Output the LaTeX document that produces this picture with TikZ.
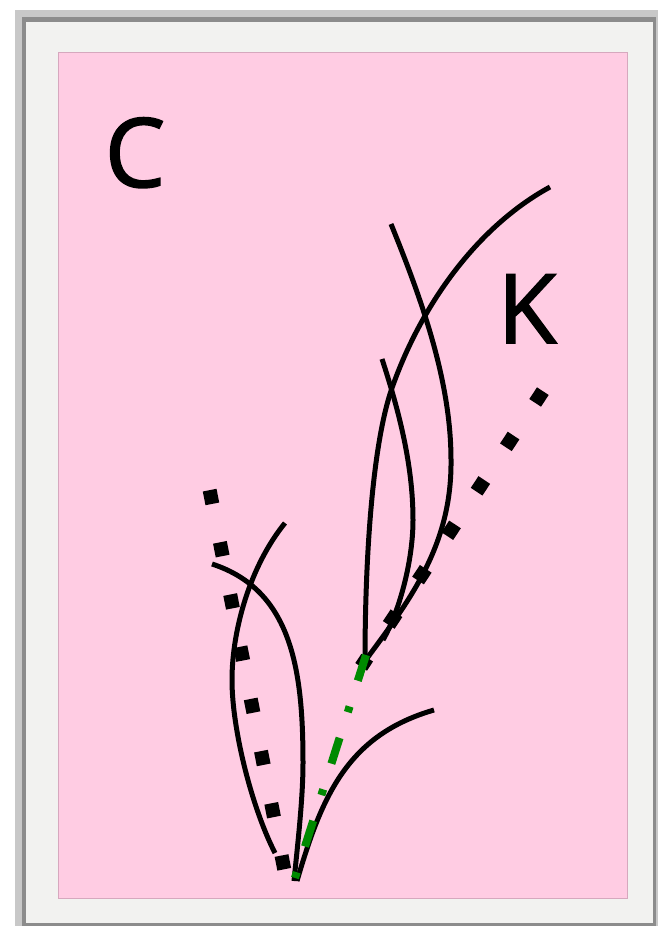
\documentclass[tikz,border=0pt]{standalone}
\usepackage{fontspec}
\setmainfont{Open Sans}
\newfontfamily\letterfont{Open Sans}[FakeBold=1.6]
\definecolor{cardpink}{RGB}{255,204,227}
\definecolor{pinkedge}{RGB}{214,168,190}
\definecolor{matwhite}{RGB}{242,242,240}
\definecolor{framegray}{RGB}{200,200,200}
\definecolor{framedark}{RGB}{140,140,140}
\definecolor{leafgreen}{RGB}{0,138,0}
\tikzset{
  stem/.style={line width=5pt, line cap=butt},
  dotrow/.style={line width=14pt, dash pattern=on 14pt off 39.2pt,
    shorten <=-7pt, shorten >=-7pt},
  axisline/.style={leafgreen, line width=8pt,
    dash pattern=on 27pt off 27pt on 6pt off 27pt},
  letter/.style={anchor=base, inner sep=0pt, font=\letterfont\fontsize{96}{96}\selectfont}
}
\begin{document}
\begin{tikzpicture}[x=1pt, y=-1pt]
	\useasboundingbox (0,0) rectangle (657,926);
	% 1. 框和粉色底
	\fill[white] (0,0) rectangle (657,926);
	\fill[framegray] (15,10) rectangle (670,940);
	\fill[framedark] (22,17) rectangle (656,926);
	\fill[matwhite] (26,22) rectangle (653,923);
	\filldraw[fill=cardpink, draw=pinkedge, line width=1pt] (58,52) rectangle (627,898);
	
	% 2. 两个顶点
	\coordinate (A) at (365,661);   % 上面一簇的交点
	\coordinate (B) at (294,881);   % 下面一簇的交点
	\coordinate (A') at (539,397);  % 右侧点列起点
	\coordinate (B') at (211,497);  % 左侧点列起点
	
	% 3. 点列
	\draw[dotrow] (A') -- (A);
	\draw[dotrow] (B') -- (283,863);
	
	% 4. 上面一簇曲线
	\draw[stem] (550,187) .. controls (475,228) and (420,308) .. (392,388)
	            .. controls (372,445) and (365,561) .. (A);
	\draw[stem] (391,224) .. controls (421,298) and (451,380) .. (451,460)
	            .. controls (452,545) and (410,600) .. (A);
	\draw[stem] (382,359) .. controls (399,411) and (413,465) .. (413,520)
	            .. controls (413,560) and (400,610) .. (383,640);
	
	% 5. 下面一簇曲线
	\draw[stem] (285,523) .. controls (250,566) and (232,630) .. (232,680)
	            .. controls (232,730) and (252,808) .. (275,853);
	\draw[stem] (212,564) .. controls (292,590) and (303,670) .. (303,763)
	            .. controls (303,800) and (297,850) .. (B);
	\draw[stem] (297,881) .. controls (322,795) and (348,735) .. (434,710);
	
	% 6. 绿色点划线
	\draw[axisline] (366,655) -- (B);
	
	% 7. 字母
	\node[letter] (labelC) at (135,187) {C};
	\node[letter] (labelK) at (527,343) {K};
	
\end{tikzpicture}
\end{document}
